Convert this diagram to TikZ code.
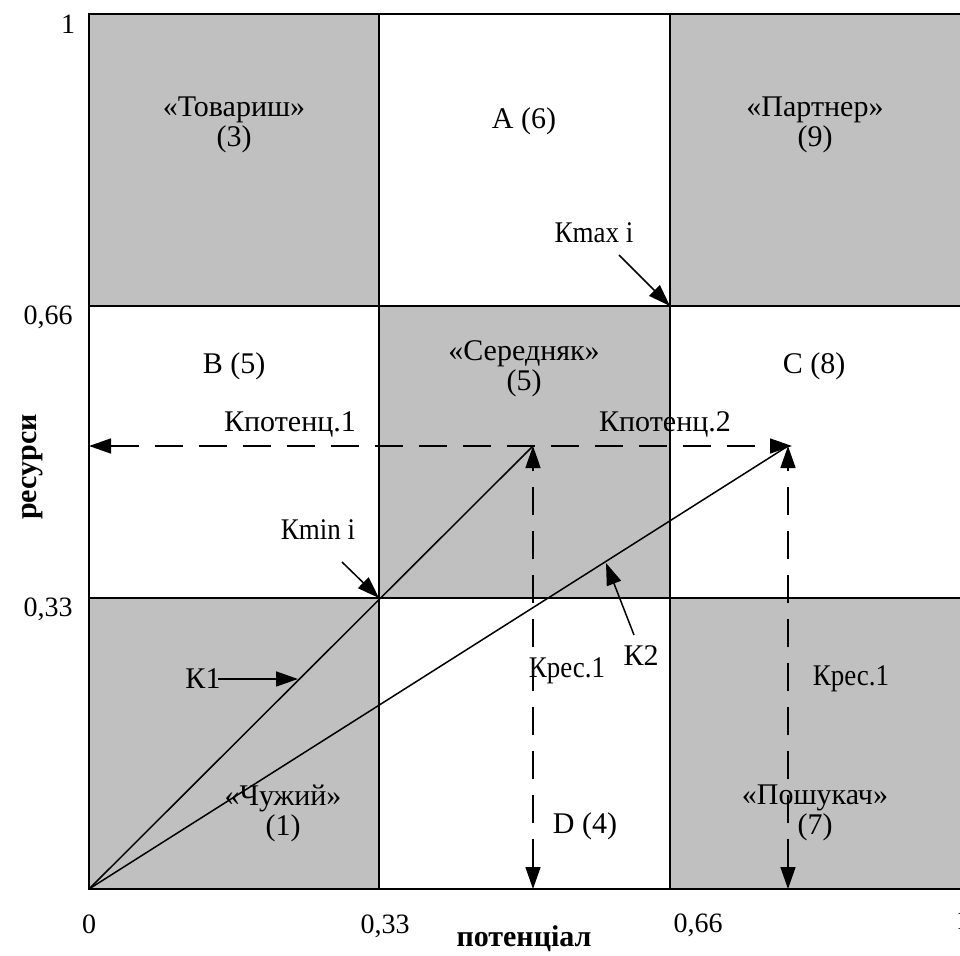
\documentclass[tikz,border=0pt]{standalone}
\usepackage{fontspec}
\setmainfont{Liberation Serif}
\usetikzlibrary{arrows.meta}
\definecolor{cellgray}{HTML}{C0C0C0}
\newcommand\kcond[1]{\scalebox{0.9}[1]{#1}}
\begin{document}
\begin{tikzpicture}[x=1pt,y=-1pt,
  lbl/.style={font=\fontsize{30}{30}\selectfont, align=center, inner sep=0pt},
  tick/.style={font=\fontsize{28}{30}\selectfont, inner sep=0pt},
  axlbl/.style={font=\fontsize{30}{30}\selectfont\bfseries, inner sep=0pt},
  gridln/.style={line width=2pt},
  vec/.style={line width=1.5pt},
  ptr/.style={line width=1.5pt, -{Triangle[length=22pt,width=15pt]}},
  dashln/.style={line width=1.5pt, dash pattern=on 28pt off 16pt,
     {Triangle[length=22pt,width=15pt]}-{Triangle[length=22pt,width=15pt]}}]
\useasboundingbox (0,0) rectangle (960,955);
% cells
\fill[cellgray] (89,14) rectangle (379,306);
\fill[cellgray] (670,14) rectangle (961,306);
\fill[cellgray] (379,306) rectangle (670,598);
\fill[cellgray] (89,598) rectangle (379,889);
\fill[cellgray] (670,598) rectangle (961,889);
% grid
\draw[gridln] (89,14) rectangle (961,889);
\draw[gridln] (379,14) -- (379,889);
\draw[gridln] (670,14) -- (670,889);
\draw[gridln] (89,306) -- (961,306);
\draw[gridln] (89,598) -- (961,598);
% coordinates
\coordinate (O) at (89,889);
\coordinate (P1) at (533,446);
\coordinate (P2) at (788,446);
\coordinate (L) at (89,446);
\coordinate (P2r) at (792,446);
\coordinate (B1) at (533,889);
\coordinate (B2) at (788,889);
\coordinate (Cmax) at (670,306);
\coordinate (Cmin) at (379,598);
% vectors
\draw[vec] (O) -- (P1);
\draw[vec] (O) -- (P2);
% dashed
\draw[dashln] (L) -- (P2r);
\draw[dashln] (B1) -- (P1);
\draw[dashln] (B2) -- (P2);
% cell labels
\node[lbl] (tov) at (234,125) {«Товариш»\\(3)};
\node[lbl] (a6) at (524,121) {A (6)};
\node[lbl] (par) at (815,125) {«Партнер»\\(9)};
\node[lbl] (b5) at (234,366) {B (5)};
\node[lbl] (ser) at (524,369) {«Середняк»\\(5)};
\node[lbl] (c8) at (814,366) {C (8)};
\node[lbl] (chu) at (283,813) {«Чужий»\\(1)};
\node[lbl] (d4) at (585,826) {D (4)};
\node[lbl] (pos) at (815,813) {«Пошукач»\\(7)};
% K labels
\node[lbl] (kmax) at (594,233) {\kcond{Кmax i}};
\node[lbl] (kmin) at (318,530) {\kcond{Кmin i}};
\node[lbl] (kp1) at (290,424) {Кпотенц.1};
\node[lbl] (kp2) at (665,424) {Кпотенц.2};
\node[lbl] (k1) at (203,679) {К1};
\node[lbl] (k2) at (641,656) {К2};
\node[lbl] (kr1) at (567,671) {\kcond{Крес.1}};
\node[lbl] (kr2) at (851,679) {\kcond{Крес.1}};
% pointer arrows
\coordinate (kmaxt) at (619,255);
\coordinate (kmint) at (342,562);
\coordinate (k1t) at (218,679);
\coordinate (k1h) at (298,679);
\coordinate (k2t) at (634,635);
\coordinate (k2h) at (606,563);
\draw[ptr] (kmaxt) -- (Cmax);
\draw[ptr] (kmint) -- (Cmin);
\draw[ptr] (k1t) -- (k1h);
\draw[ptr] (k2t) -- (k2h);
% ticks
\node[tick] (y1) at (68,24) {1};
\node[tick] (y66) at (48,317) {0,66};
\node[tick] (y33) at (48,609) {0,33};
\node[tick] (x0) at (89,924) {0};
\node[tick] (x33) at (385,926) {0,33};
\node[tick] (x66) at (698,925) {0,66};
\node[tick] (x1) at (963,920) {1};
\node[axlbl] (xl) at (524,939) {потенціал};
\node[axlbl, rotate=90] (yl) at (33,467) {ресурси};
\end{tikzpicture}
\end{document}
